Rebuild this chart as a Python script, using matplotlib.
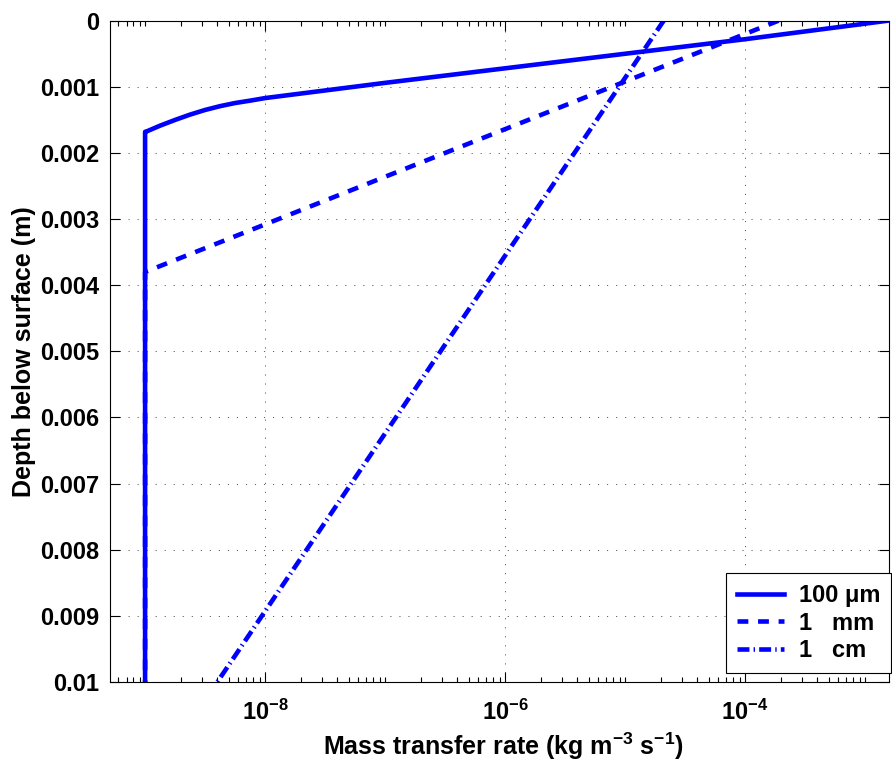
import numpy as np
import matplotlib
matplotlib.use("Agg")
import matplotlib.pyplot as plt
from matplotlib.ticker import FixedLocator, LogLocator, MultipleLocator, FuncFormatter, NullFormatter

# Mass transfer rate profiles (kg m^-3 s^-1) against depth below surface (m)
depth_100um = [0.0, 0.00028, 0.0005, 0.00072, 0.00094, 0.00117, 0.001209, 0.001245,
               0.001292, 0.00135, 0.00142, 0.0015, 0.001588, 0.001671, 0.00168, 0.01]
rate_100um = [1.55e-3, 1e-4, 1e-5, 1e-6, 1e-7, 1e-8, 7.5e-9, 5.62e-9,
              4.22e-9, 3.16e-9, 2.37e-9, 1.78e-9, 1.33e-9, 1.04e-9, 1.0e-9, 1.0e-9]

depth_1mm = [0.0, 0.0038, 0.01]
rate_1mm = [1.9e-4, 1.0e-9, 1.0e-9]

depth_1cm = [0.0, 0.01]
rate_1cm = [2.1e-5, 4.0e-9]

labels = ["100 \u03bcm", "1   mm", "1   cm"]
x_major = [1e-8, 1e-6, 1e-4]

plt.rcParams.update({
    "font.family": "Liberation Sans",
    "font.weight": "bold",
    "mathtext.fontset": "custom",
    "mathtext.rm": "Liberation Sans:bold",
    "mathtext.it": "Liberation Sans:bold",
    "mathtext.bf": "Liberation Sans:bold",
    "mathtext.default": "bf",
    "lines.scale_dashes": False,
    "axes.linewidth": 0.8,
})

W, H = 892, 762
fig = plt.figure(figsize=(W / 100, H / 100), dpi=100)
ax = fig.add_axes([110 / W, 1 - 682 / H, 779 / W, (682 - 20.7) / H])

lw = 3.3
ax.plot(rate_100um, depth_100um, color="b", lw=lw, label=labels[0])
ax.plot(rate_1mm, depth_1mm, color="b", lw=lw, dashes=(7.8, 7.0), label=labels[1])
ax.plot(rate_1cm, depth_1cm, color="b", lw=lw, dashes=(8.6, 3.0, 1.0, 3.0), label=labels[2])

ax.set_xscale("log")
ax.set_xlim(5.1e-10, 1.585e-3)
ax.set_ylim(0.01, 0)

ax.xaxis.set_major_locator(FixedLocator(x_major))
ax.xaxis.set_major_formatter(FuncFormatter(lambda v, _: r"$10^{%d}$" % round(np.log10(v))))
ax.xaxis.set_minor_locator(LogLocator(base=10, subs=np.arange(1, 10), numticks=100))
ax.xaxis.set_minor_formatter(NullFormatter())
ax.yaxis.set_major_locator(MultipleLocator(0.001))
ax.yaxis.set_major_formatter(FuncFormatter(lambda v, _: f"{v:g}"))

ax.tick_params(which="both", direction="in", top=True, right=True, width=0.8)
ax.tick_params(which="major", length=7, labelsize=17, pad=8)
ax.tick_params(which="minor", length=3.5)
ax.tick_params(axis="x", which="major", pad=13)

ax.grid(True, which="major", color="0.35", linestyle=(0, (0.8, 5.7)), lw=0.7)

ax.set_xlabel("Mass transfer rate (kg m$^{-3}$ s$^{-1}$)", fontsize=18, fontweight="bold")
ax.set_ylabel("Depth below surface (m)", fontsize=18, fontweight="bold")
ax.xaxis.set_label_coords(0.505, -0.073)
ax.yaxis.set_label_coords(-0.095, 0.5)

leg = ax.legend(loc="lower right", bbox_to_anchor=(1.003, 0.0136), borderaxespad=0,
                fontsize=17, fancybox=False, framealpha=1, edgecolor="k",
                handlelength=2.0, handletextpad=0.65, labelspacing=0.2, borderpad=0.45)
leg.get_frame().set_linewidth(0.8)

fig.savefig("out.png", dpi=100)
